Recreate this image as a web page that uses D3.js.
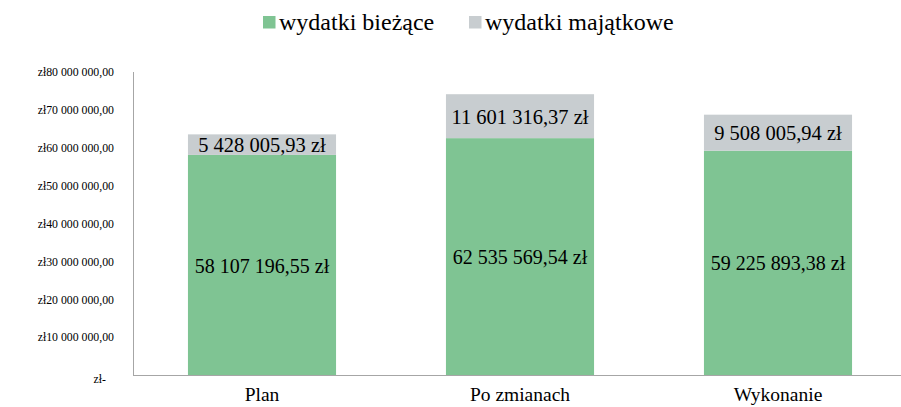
<!DOCTYPE html>
<html><head><meta charset="utf-8">
<script src="https://cdn.jsdelivr.net/npm/d3@7"></script>
</head><body style="margin:0">
<svg id="c" width="901" height="407"></svg>
<script>
const categories = ["Plan", "Po zmianach", "Wykonanie"];
const biezace = [58107196.55, 62535569.54, 59225893.38];
const majatkowe = [5428005.93, 11601316.37, 9508005.94];
const seriesNames = ["wydatki bieżące", "wydatki majątkowe"];
const yTicks = [0, 10000000, 20000000, 30000000, 40000000, 50000000, 60000000, 70000000, 80000000];
const colors = ["#7fc493", "#c8cdd0"];
const FONT = "'Liberation Serif', 'Times New Roman', serif";

const svg = d3.select("#c");
const x = d3.scaleBand().domain(categories).range([133, 907]).paddingInner(0.426).paddingOuter(0.213);
const y = d3.scaleLinear().domain([0, 80000000]).range([375, 72]);

const fmtNum = v => {
  const [i, d] = v.toFixed(2).split(".");
  return i.replace(/\B(?=(\d{3})+(?!\d))/g, " ") + "," + d;
};
const serif = sel => sel.style("font-family", FONT, "important");

const data = categories.map((c, i) => ({c, b: biezace[i], m: majatkowe[i]}));
// bars
svg.append("g").selectAll("rect").data(data).join("rect")
  .attr("x", d => x(d.c)).attr("width", x.bandwidth())
  .attr("y", d => y(d.b)).attr("height", d => y(0) - y(d.b)).attr("fill", colors[0]);
svg.append("g").selectAll("rect").data(data).join("rect")
  .attr("x", d => x(d.c)).attr("width", x.bandwidth())
  .attr("y", d => y(d.b + d.m)).attr("height", d => y(d.b) - y(d.b + d.m)).attr("fill", colors[1]);

// y axis labels
const yAxis = d3.axisLeft(y).tickValues(yTicks).tickSize(0).tickPadding(19)
  .tickFormat(v => v === 0 ? "zł-" : "zł" + fmtNum(v));
const ga = svg.append("g").attr("transform", "translate(133,0)").call(yAxis);
ga.select(".domain").remove();
ga.selectAll("text").attr("font-size", 11.8).attr("fill", "#000").call(serif)
  .attr("dx", d => d === 0 ? -8 : 0).attr("dy", d => d === 0 ? "0.6em" : "0.32em");

// axis lines
svg.append("line").attr("x1", 133.5).attr("x2", 133.5).attr("y1", 72).attr("y2", 375).attr("stroke", "#a6a6a6");
svg.append("line").attr("x1", 133).attr("x2", 901).attr("y1", 375.5).attr("y2", 375.5).attr("stroke", "#a6a6a6");

// x labels
const xAxis = d3.axisBottom(x).tickSize(0).tickPadding(12);
const gx = svg.append("g").attr("transform", "translate(0,375)").call(xAxis);
gx.select(".domain").remove();
gx.selectAll("text").attr("font-size", 19.5).attr("fill", "#000").call(serif);

// data labels
svg.append("g").selectAll("text").data(data).join("text")
  .attr("x", d => x(d.c) + x.bandwidth() / 2).attr("y", d => y(d.b / 2))
  .attr("text-anchor", "middle").attr("dy", "0.38em").attr("font-size", 20).call(serif)
  .text(d => fmtNum(d.b) + " zł");
svg.append("g").selectAll("text").data(data).join("text")
  .attr("x", d => x(d.c) + x.bandwidth() / 2).attr("y", d => y(d.b + d.m / 2))
  .attr("text-anchor", "middle").attr("dy", "0.37em").attr("font-size", 20.5).call(serif)
  .text(d => fmtNum(d.m) + " zł");

// legend
const lg = svg.append("g");
const lx = [263, 469];
seriesNames.forEach((n, i) => {
  lg.append("rect").attr("x", lx[i]).attr("y", 16).attr("width", 12.5).attr("height", 12.5).attr("fill", colors[i]);
  lg.append("text").attr("x", lx[i] + 16).attr("y", 30).attr("font-size", 24).call(serif).text(n);
});
</script>
</body></html>
